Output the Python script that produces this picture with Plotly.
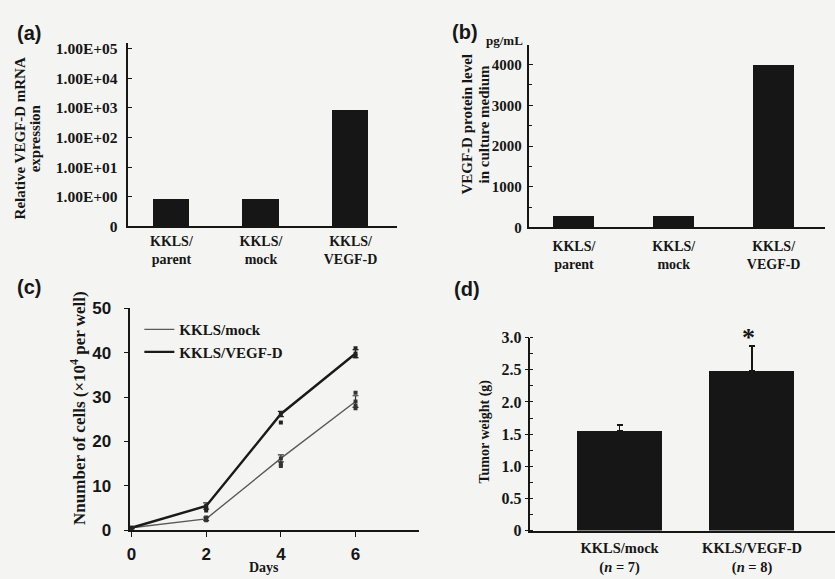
import plotly.graph_objects as go

W, H = 835, 579
FIG_H = 587  # page is shown squeezed to 579 px tall; paper fractions are unchanged

# ---------------- data ----------------
# (a) relative VEGF-D mRNA expression (log scale)
cell_lines = ["KKLS/<br>parent", "KKLS/<br>mock", "KKLS/<br>VEGF-D"]
mrna_expr = [0.85, 0.85, 850]
mrna_tickvals = [0.1, 1, 10, 100, 1000, 10000, 100000]
mrna_ticktext = ["0", "1.00E+00", "1.00E+01", "1.00E+02", "1.00E+03", "1.00E+04", "1.00E+05"]

# (b) VEGF-D protein level (pg/mL)
protein_level = [280, 285, 3990]
protein_tickvals = [0, 1000, 2000, 3000, 4000]

# (c) growth curve
days = [0, 2, 4, 6]
mock_mean = [0.6, 2.6, 16.2, 29.0]
mock_err = [0.2, 0.4, 0.8, 1.3]
vegf_mean = [0.6, 5.5, 26.2, 39.8]
vegf_err = [0.2, 0.7, 0.6, 0.9]
mock_rep_days = [2, 2, 4, 4, 6, 6, 6]
mock_rep_vals = [2.3, 2.9, 14.5, 15.0, 31.0, 27.5, 28.0]
vegf_rep_days = [2, 2, 4, 6, 6]
vegf_rep_vals = [4.5, 5.0, 24.3, 41.0, 39.2]
growth_tickvals = [0, 2, 4, 6]
cells_tickvals = [0, 10, 20, 30, 40, 50]

# (d) tumor weight
groups = ["KKLS/mock<br>(<i>n</i> = 7)", "KKLS/VEGF-D<br>(<i>n</i> = 8)"]
tumor_weight = [1.56, 2.48]
tumor_err = [0.08, 0.39]
weight_tickvals = [0, 0.5, 1.0, 1.5, 2.0, 2.5, 3.0]
weight_ticktext = ["0", "0.5", "1.0", "1.5", "2.0", "2.5", "3.0"]

# ---------------- helpers ----------------
def fx(p):
    return p / W

def fy(p):
    return 1 - p / H

SERIF = "Liberation Serif"
SANS = "Liberation Sans"
INK = "#161616"
BG = "#f4f4f2"

serif_b = lambda s: dict(family=SERIF, size=s, color=INK, weight="bold")
sans_b = lambda s: dict(family=SANS, size=s, color=INK, weight="bold")

fig = go.Figure()

# (a)
fig.add_trace(go.Bar(x=cell_lines, y=mrna_expr, width=0.41, marker=dict(color=INK, line=dict(width=0)),
                     xaxis="x", yaxis="y", showlegend=False))
# (b)
fig.add_trace(go.Bar(x=cell_lines, y=protein_level, width=0.41, marker=dict(color=INK, line=dict(width=0)),
                     xaxis="x2", yaxis="y2", showlegend=False))
# (c)
fig.add_trace(go.Scatter(x=days, y=mock_mean, mode="lines", name="KKLS/mock",
                         line=dict(color="#5a5a5a", width=1.4), xaxis="x3", yaxis="y3"))
fig.add_trace(go.Scatter(x=days, y=vegf_mean, mode="lines", name="KKLS/VEGF-D",
                         line=dict(color="#1a1a1a", width=2.4), xaxis="x3", yaxis="y3"))
fig.add_trace(go.Scatter(x=days, y=mock_mean, mode="markers", showlegend=False,
                         marker=dict(size=4, color="#333", symbol="square"),
                         error_y=dict(type="data", array=mock_err, width=3, thickness=1.2, color="#333"),
                         xaxis="x3", yaxis="y3", cliponaxis=False))
fig.add_trace(go.Scatter(x=days, y=vegf_mean, mode="markers", showlegend=False,
                         marker=dict(size=4, color="#222", symbol="square"),
                         error_y=dict(type="data", array=vegf_err, width=3, thickness=1.2, color="#222"),
                         xaxis="x3", yaxis="y3", cliponaxis=False))
fig.add_trace(go.Scatter(x=mock_rep_days, y=mock_rep_vals, mode="markers", showlegend=False,
                         marker=dict(size=4, color="#333", symbol="square"), xaxis="x3", yaxis="y3"))
fig.add_trace(go.Scatter(x=vegf_rep_days, y=vegf_rep_vals, mode="markers", showlegend=False,
                         marker=dict(size=4, color="#222", symbol="square"), xaxis="x3", yaxis="y3"))
# (d)
fig.add_trace(go.Bar(x=groups, y=tumor_weight, width=0.64, marker=dict(color=INK, line=dict(width=0)),
                     error_y=dict(type="data", array=tumor_err, arrayminus=[0, 0], symmetric=False,
                                  width=3, thickness=1.5, color=INK),
                     xaxis="x4", yaxis="y4", showlegend=False))

axis_common = dict(showline=True, linecolor=INK, linewidth=1.5, showgrid=False, zeroline=False,
                   tickcolor=INK, fixedrange=True)

fig.update_layout(
    width=W, height=FIG_H,
    margin=dict(l=0, r=0, t=0, b=0),
    paper_bgcolor=BG, plot_bgcolor=BG,
    bargap=0,
    # (a)
    xaxis=dict(domain=[fx(125), fx(395)], anchor="y", type="category", range=[-0.48, 2.52],
               ticks="", tickfont=serif_b(14), ticklabelstandoff=1, **axis_common),
    yaxis=dict(domain=[fy(221.7), fy(35)], anchor="x", type="log", range=[-1, 5.17],
               tickvals=mrna_tickvals, ticktext=mrna_ticktext, ticks="inside", ticklen=4,
               ticklabelstandoff=6, tickfont=serif_b(15.5), **axis_common),
    # (b)
    xaxis2=dict(domain=[fx(528), fx(825)], anchor="y2", type="category", range=[-0.445, 2.515],
                ticks="", tickfont=serif_b(14), ticklabelstandoff=5, **axis_common),
    yaxis2=dict(domain=[fy(222.7), fy(36.7)], anchor="x2", range=[0, 4480],
                tickvals=protein_tickvals, ticks="inside", ticklen=4, ticklabelstandoff=3,
                minor=dict(tick0=0, dtick=500, ticks="inside", ticklen=3, tickcolor=INK),
                tickfont=serif_b(15), **axis_common),
    # (c)
    xaxis3=dict(domain=[fx(127), fx(417)], anchor="y3", range=[-0.03, 7.7],
                tickvals=growth_tickvals, ticks="outside", ticklen=5, ticklabelstandoff=2,
                tickfont=sans_b(17), **axis_common),
    yaxis3=dict(domain=[fy(531.5), fy(305)], anchor="x3", range=[0, 50],
                tickvals=cells_tickvals, ticks="outside", ticklen=5, ticklabelstandoff=9,
                tickfont=sans_b(17), **axis_common),
    # (d)
    xaxis4=dict(domain=[fx(529), 1.0], anchor="y4", type="category", range=[-0.673, 1.626],
                ticks="", tickfont=serif_b(14.5), ticklabelstandoff=3, **axis_common),
    yaxis4=dict(domain=[fy(531.7), fy(335)], anchor="x4", range=[0, 3.0],
                tickvals=weight_tickvals, ticktext=weight_ticktext, ticks="outside", ticklen=4,
                minor=dict(tick0=0, dtick=0.25, ticks="inside", ticklen=3, tickcolor=INK),
                tickfont=serif_b(16), **axis_common),
    legend=dict(x=fx(136), y=fy(310), xanchor="left", yanchor="top",
                bgcolor="rgba(0,0,0,0)", borderwidth=0, itemwidth=30, tracegroupgap=0,
                font=serif_b(15)),
)

ann = []
def add_text(x, y, text, font, angle=0, **kw):
    ann.append(dict(x=fx(x), y=fy(y), xref="paper", yref="paper", text=text, showarrow=False,
                    font=font, textangle=angle, xanchor="center", yanchor="middle", **kw))

# panel letters
add_text(25, 24, "(a)", sans_b(20))
add_text(463, 23, "(b)", sans_b(20))
add_text(25, 283, "(c)", sans_b(20))
add_text(465, 285, "(d)", sans_b(20))
# axis titles
add_text(17, 132, "Relative VEGF-D mRNA", serif_b(15), -90)
add_text(32, 132, "expression", serif_b(15), -90)
add_text(465, 117, "VEGF-D protein level", serif_b(15), -90)
add_text(482, 117, "in culture medium", serif_b(15), -90)
add_text(503, 32, "pg/mL", serif_b(13))
add_text(75, 407, "Nnumber of cells (×10<sup>4</sup> per well)", serif_b(17), -90)
add_text(261, 569, "Days", serif_b(14))
add_text(483, 431, "Tumor weight (g)", serif_b(14), -90)

ann.append(dict(x=1, y=tumor_weight[1] + tumor_err[1], xref="x4", yref="y4", text="*",
                showarrow=False, font=serif_b(26), yanchor="bottom", xshift=-4, yshift=-8))

fig.update_layout(annotations=ann)

fig.write_html("out.html", config={"displayModeBar": False},
               post_script="document.body.style.margin='0';document.body.style.background='%s';" % BG)
